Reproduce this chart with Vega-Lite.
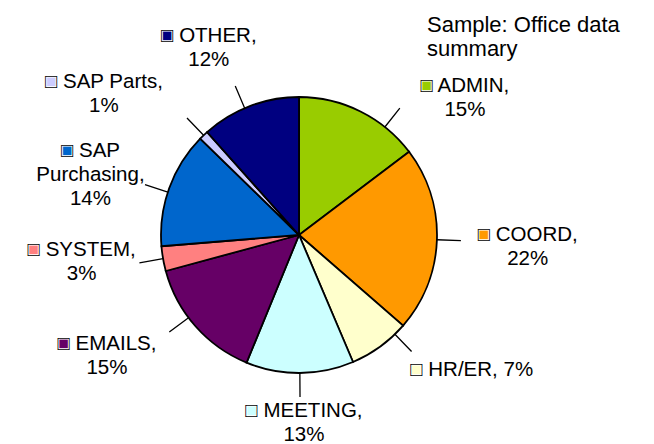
{
  "$schema": "https://vega.github.io/schema/vega-lite/v6.json",
  "width": 598,
  "height": 418,
  "autosize": {"type": "none"},
  "padding": {"left": 0, "top": 26, "right": 56, "bottom": 0},
  "background": "white",
  "config": {"view": {"stroke": null}},
  "title": {
    "text": ["Sample: Office data", "summary"],
    "anchor": "start",
    "frame": "group",
    "align": "left",
    "dx": 427,
    "dy": 35,
    "offset": 0,
    "font": "Liberation Sans",
    "fontSize": 22,
    "fontWeight": "normal",
    "color": "black",
    "lineHeight": 24
  },
  "data": {
    "values": [
      {"idx": 1, "category": "ADMIN", "value": 14.7, "label": "ADMIN,\n15%"},
      {"idx": 2, "category": "COORD", "value": 21.7, "label": "COORD,\n22%"},
      {"idx": 3, "category": "HR/ER", "value": 7.2, "label": "HR/ER, 7%"},
      {"idx": 4, "category": "MEETING", "value": 12.6, "label": "MEETING,\n13%"},
      {"idx": 5, "category": "EMAILS", "value": 14.6, "label": "EMAILS,\n15%"},
      {"idx": 6, "category": "SYSTEM", "value": 2.9, "label": "SYSTEM,\n3%"},
      {"idx": 7, "category": "SAP Purchasing", "value": 13.6, "label": "SAP\nPurchasing,\n14%"},
      {"idx": 8, "category": "SAP Parts", "value": 1.1, "label": "SAP Parts,\n1%"},
      {"idx": 9, "category": "OTHER", "value": 11.6, "label": "OTHER,\n12%"}
    ]
  },
  "encoding": {
    "theta": {"field": "value", "type": "quantitative", "stack": true},
    "order": {"field": "idx", "type": "quantitative"}
  },
  "layer": [
    {
      "mark": {"type": "arc", "outerRadius": 138, "stroke": "black", "strokeWidth": 1.8},
      "encoding": {
        "color": {
          "field": "category",
          "type": "nominal",
          "scale": {
            "domain": ["ADMIN", "COORD", "HR/ER", "MEETING", "EMAILS", "SYSTEM", "SAP Purchasing", "SAP Parts", "OTHER"],
            "range": ["#99CC00", "#FF9900", "#FFFFCC", "#CCFFFF", "#660066", "#FF8080", "#0066CC", "#CCCCFF", "#000080"]
          },
          "legend": null
        }
      }
    },
    {
      "mark": {
        "type": "arc",
        "innerRadius": 138,
        "outerRadius": 162,
        "padAngle": 1.15,
        "stroke": "black",
        "strokeWidth": 1.3,
        "strokeJoin": "bevel",
        "fillOpacity": 0,
        "thetaOffset": {"expr": "datum.category==='ADMIN'?0.21:datum.category==='HR/ER'?-0.14:datum.category==='EMAILS'?0.08:datum.category==='SAP Purchasing'?-0.03:datum.category==='OTHER'?-0.04:0"},
        "theta2Offset": {"expr": "datum.category==='ADMIN'?0.21:datum.category==='HR/ER'?-0.14:datum.category==='EMAILS'?0.08:datum.category==='SAP Purchasing'?-0.03:datum.category==='OTHER'?-0.04:0"}
      },
      "encoding": {"detail": {"field": "category", "type": "nominal"}}
    },
    {
      "mark": {
        "type": "text",
        "text": {"expr": "'■ ' + datum.label"},
        "lineBreak": "\n",
        "font": "Liberation Sans",
        "fontSize": 20.5,
        "lineHeight": 24,
        "align": "center",
        "baseline": "middle",
        "stroke": "white",
        "strokeWidth": 1.2,
        "dy": {"expr": "datum.category==='HR/ER'?0:datum.category==='SAP Purchasing'?-24:-12"},
        "radius": {"expr": "datum.category==='ADMIN'?215:datum.category==='COORD'?229:datum.category==='HR/ER'?219:datum.category==='MEETING'?188:datum.category==='EMAILS'?227:datum.category==='SYSTEM'?219:datum.category==='SAP Purchasing'?217:datum.category==='SAP Parts'?241:208"},
        "thetaOffset": {"expr": "datum.category==='ADMIN'?0.42:datum.category==='COORD'?0.017:datum.category==='HR/ER'?-0.28:datum.category==='MEETING'?-0.02:datum.category==='EMAILS'?0.16:datum.category==='SYSTEM'?0.05:datum.category==='SAP Purchasing'?-0.065:datum.category==='SAP Parts'?-0.18:-0.084"}
      },
      "encoding": {
        "color": {"field": "category", "type": "nominal", "legend": null}
      }
    },
    {
      "mark": {
        "type": "text",
        "text": {"expr": "'□ ' + datum.label"},
        "lineBreak": "\n",
        "font": "Liberation Sans",
        "fontSize": 20.5,
        "lineHeight": 24,
        "align": "center",
        "baseline": "middle",
        "color": "black",
        "dy": {"expr": "datum.category==='HR/ER'?0:datum.category==='SAP Purchasing'?-24:-12"},
        "radius": {"expr": "datum.category==='ADMIN'?215:datum.category==='COORD'?229:datum.category==='HR/ER'?219:datum.category==='MEETING'?188:datum.category==='EMAILS'?227:datum.category==='SYSTEM'?219:datum.category==='SAP Purchasing'?217:datum.category==='SAP Parts'?241:208"},
        "thetaOffset": {"expr": "datum.category==='ADMIN'?0.42:datum.category==='COORD'?0.017:datum.category==='HR/ER'?-0.28:datum.category==='MEETING'?-0.02:datum.category==='EMAILS'?0.16:datum.category==='SYSTEM'?0.05:datum.category==='SAP Purchasing'?-0.065:datum.category==='SAP Parts'?-0.18:-0.084"}
      },
      "encoding": {"detail": {"field": "category", "type": "nominal"}}
    }
  ]
}
